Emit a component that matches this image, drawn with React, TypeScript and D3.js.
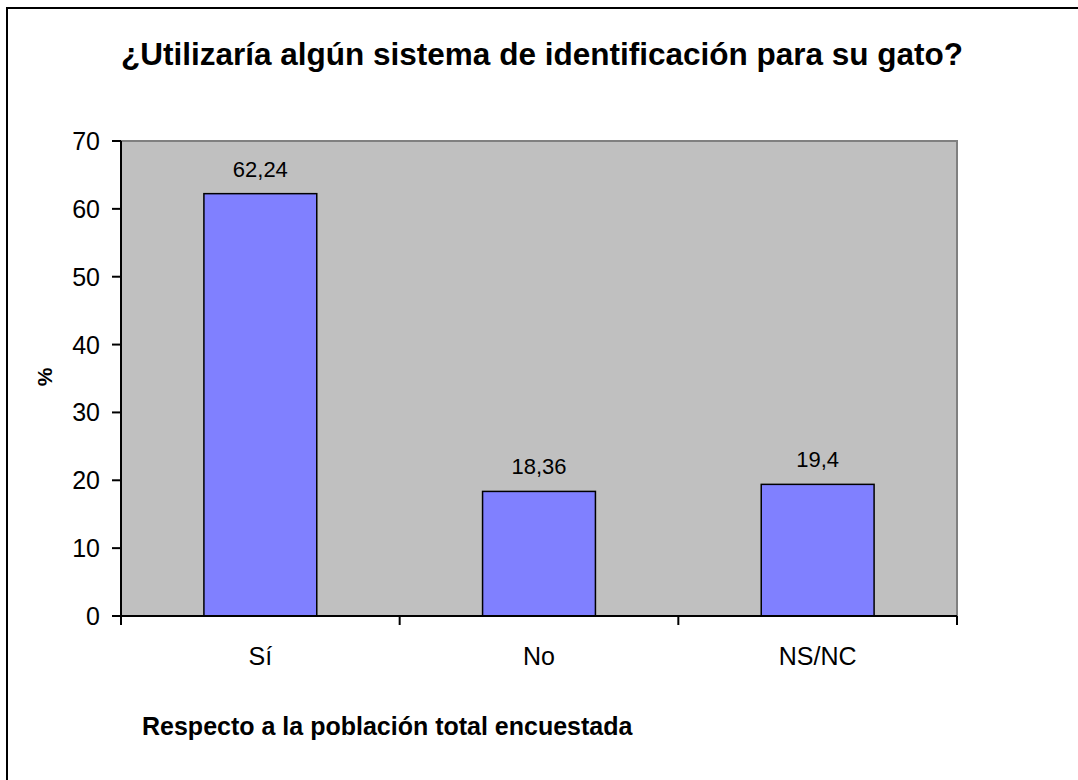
import React from "react";
import * as d3 from "d3";

const categories: string[] = ["Sí", "No", "NS/NC"];
const values: number[] = [62.24, 18.36, 19.4];
const valueLabels: string[] = ["62,24", "18,36", "19,4"];
const yTicks: number[] = [0, 10, 20, 30, 40, 50, 60, 70];
const title = "¿Utilizaría algún sistema de identificación para su gato?";
const yTitle = "%";
const footer = "Respecto a la población total encuestada";

const W = 1078;
const H = 780;
const plot = { left: 121, right: 957, top: 141, bottom: 616 };
const FONT = "'Liberation Sans', Arial, sans-serif";

export default function App() {
  const x = d3
    .scaleBand<string>()
    .domain(categories)
    .range([plot.left, plot.right])
    .paddingInner(0)
    .paddingOuter(0);
  const y = d3.scaleLinear().domain([0, 70]).range([plot.bottom, plot.top]);
  const barW = x.bandwidth() * 0.405;
  const edges = [...categories.map((c) => x(c) as number), plot.right];

  return (
    <svg
      width={W}
      height={H}
      style={{ position: "absolute", left: 0, top: 0, background: "#fff" }}
      fontFamily={FONT}
    >
      <rect x={7} y={8} width={W + 20} height={H + 20} fill="#fff" stroke="#000" strokeWidth={2} />
      <text x={542} y={65} textAnchor="middle" fontSize={31.5} fontWeight="bold" fill="#000">
        {title}
      </text>
      <rect
        x={plot.left}
        y={plot.top}
        width={plot.right - plot.left}
        height={plot.bottom - plot.top}
        fill="#C0C0C0"
        stroke="#808080"
        strokeWidth={2}
      />
      {categories.map((c, i) => {
        const cx = (x(c) as number) + x.bandwidth() / 2;
        return (
          <g key={c}>
            <rect
              x={cx - barW / 2}
              y={y(values[i])}
              width={barW}
              height={y(0) - y(values[i])}
              fill="#8080FF"
              stroke="#000"
              strokeWidth={1.5}
            />
            <text x={cx} y={y(values[i]) - 17} textAnchor="middle" fontSize={22} fill="#000">
              {valueLabels[i]}
            </text>
            <text x={cx} y={665} textAnchor="middle" fontSize={25} fill="#000">
              {c}
            </text>
          </g>
        );
      })}
      <line x1={plot.left} x2={plot.left} y1={plot.top} y2={plot.bottom} stroke="#000" strokeWidth={2} />
      <line x1={plot.left} x2={plot.right} y1={plot.bottom} y2={plot.bottom} stroke="#000" strokeWidth={2} />
      {yTicks.map((t) => (
        <g key={t}>
          <line x1={plot.left - 9} x2={plot.left} y1={y(t)} y2={y(t)} stroke="#000" strokeWidth={2} />
          <text x={plot.left - 21} y={y(t)} dy="0.36em" textAnchor="end" fontSize={25} fill="#000">
            {t}
          </text>
        </g>
      ))}
      {edges.map((e, i) => (
        <line key={i} x1={e} x2={e} y1={plot.bottom} y2={plot.bottom + 9} stroke="#000" strokeWidth={2} />
      ))}
      <text
        transform={`translate(52,377) rotate(-90)`}
        textAnchor="middle"
        fontSize={21}
        fontWeight="bold"
        fill="#000"
      >
        {yTitle}
      </text>
      <text x={142} y={735} fontSize={25} fontWeight="bold" fill="#000">
        {footer}
      </text>
    </svg>
  );
}
